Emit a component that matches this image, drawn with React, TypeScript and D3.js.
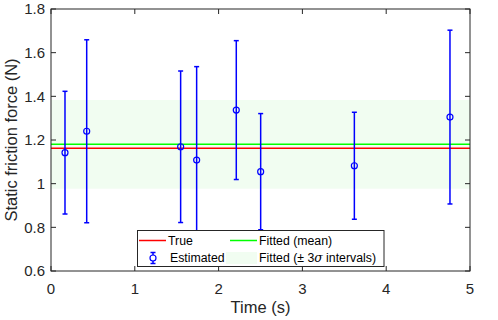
import { useEffect, useRef } from 'react';
import * as d3 from 'd3';

// measured points (time in s, estimated force in N, error half-width)
const times = [0.167, 0.426, 1.547, 1.738, 2.211, 2.502, 3.62, 4.761];
const estimates = [1.142, 1.24, 1.169, 1.108, 1.337, 1.055, 1.082, 1.305];
const errors = [0.281, 0.419, 0.347, 0.428, 0.318, 0.266, 0.245, 0.398];

const trueValue = [1.162];
const fittedMean = [1.18];
const fittedSigma3 = [0.203];

const xTicks = [0, 1, 2, 3, 4, 5];
const yTicks = [0.6, 0.8, 1, 1.2, 1.4, 1.6, 1.8];

const legendLabels = ['True', 'Fitted (mean)', 'Estimated', 'Fitted (± 3σ intervals)'];

function App() {
    const svgRef = useRef<SVGSVGElement>(null);

    useEffect(() => {
        if (!svgRef.current) return;
        const svg = d3.select(svgRef.current);
        svg.selectAll('*').remove();

        const width = 498;
        const height = 320;
        const margin = { top: 9, right: 28, bottom: 49, left: 51 };
        const axisColor = '#262626';
        const font = '"Liberation Sans", Arial, sans-serif';

        const x = d3.scaleLinear().domain([0, 5]).range([margin.left, width - margin.right]);
        const y = d3.scaleLinear().domain([0.6, 1.8]).range([height - margin.bottom, margin.top]);

        svg.append('rect')
            .attr('width', width)
            .attr('height', height)
            .attr('fill', '#ffffff');

        const clip = svg.append('clipPath').attr('id', 'plotclip');
        clip.append('rect')
            .attr('x', margin.left)
            .attr('y', margin.top)
            .attr('width', x(5) - x(0))
            .attr('height', y(0.6) - y(1.8));

        const plot = svg.append('g').attr('clip-path', 'url(#plotclip)');

        // ±3σ band
        plot.append('rect')
            .attr('x', x(0))
            .attr('width', x(5) - x(0))
            .attr('y', y(fittedMean[0] + fittedSigma3[0]))
            .attr('height', y(fittedMean[0] - fittedSigma3[0]) - y(fittedMean[0] + fittedSigma3[0]))
            .attr('fill', '#f1fdf1');

        plot.append('line')
            .attr('x1', x(0)).attr('x2', x(5))
            .attr('y1', y(trueValue[0])).attr('y2', y(trueValue[0]))
            .attr('stroke', '#ff0000')
            .attr('stroke-width', 1.5);

        plot.append('line')
            .attr('x1', x(0)).attr('x2', x(5))
            .attr('y1', y(fittedMean[0])).attr('y2', y(fittedMean[0]))
            .attr('stroke', '#00ff00')
            .attr('stroke-width', 1.5);

        const pts = times.map((t, i) => ({ t, v: estimates[i], e: errors[i] }));
        const capW = 2.5;
        const eb = plot.selectAll('g.eb').data(pts).enter().append('g');
        eb.append('line')
            .attr('x1', d => x(d.t)).attr('x2', d => x(d.t))
            .attr('y1', d => y(d.v - d.e)).attr('y2', d => y(d.v + d.e))
            .attr('stroke', '#0000ff').attr('stroke-width', 1.5);
        eb.append('line')
            .attr('x1', d => x(d.t) - capW).attr('x2', d => x(d.t) + capW)
            .attr('y1', d => y(d.v + d.e)).attr('y2', d => y(d.v + d.e))
            .attr('stroke', '#0000ff').attr('stroke-width', 1.5);
        eb.append('line')
            .attr('x1', d => x(d.t) - capW).attr('x2', d => x(d.t) + capW)
            .attr('y1', d => y(d.v - d.e)).attr('y2', d => y(d.v - d.e))
            .attr('stroke', '#0000ff').attr('stroke-width', 1.5);
        eb.append('circle')
            .attr('cx', d => x(d.t)).attr('cy', d => y(d.v))
            .attr('r', 3)
            .attr('fill', 'none')
            .attr('stroke', '#0000ff').attr('stroke-width', 1.2);

        // axes box and inward ticks
        const tickLen = 5;
        const axes = svg.append('g').attr('stroke', axisColor).attr('stroke-width', 1).attr('fill', 'none');
        axes.append('rect')
            .attr('x', x(0)).attr('y', y(1.8))
            .attr('width', x(5) - x(0)).attr('height', y(0.6) - y(1.8));
        xTicks.forEach(t => {
            axes.append('line').attr('x1', x(t)).attr('x2', x(t)).attr('y1', y(0.6)).attr('y2', y(0.6) - tickLen);
            axes.append('line').attr('x1', x(t)).attr('x2', x(t)).attr('y1', y(1.8)).attr('y2', y(1.8) + tickLen);
        });
        yTicks.forEach(t => {
            axes.append('line').attr('x1', x(0)).attr('x2', x(0) + tickLen).attr('y1', y(t)).attr('y2', y(t));
            axes.append('line').attr('x1', x(5)).attr('x2', x(5) - tickLen).attr('y1', y(t)).attr('y2', y(t));
        });

        svg.selectAll('text.xt').data(xTicks).enter().append('text')
            .attr('x', d => x(d))
            .attr('y', y(0.6) + 23)
            .attr('text-anchor', 'middle')
            .attr('font-family', font)
            .attr('font-size', 15)
            .attr('fill', axisColor)
            .text(d => d3.format('')(d));

        svg.selectAll('text.yt').data(yTicks).enter().append('text')
            .attr('x', x(0) - 6)
            .attr('y', d => y(d))
            .attr('dy', '0.35em')
            .attr('text-anchor', 'end')
            .attr('font-family', font)
            .attr('font-size', 15)
            .attr('fill', axisColor)
            .text(d => d3.format('')(d));

        svg.append('text')
            .attr('x', (x(0) + x(5)) / 2)
            .attr('y', 313)
            .attr('text-anchor', 'middle')
            .attr('font-family', font)
            .attr('font-size', 16.5)
            .attr('fill', axisColor)
            .text('Time (s)');

        svg.append('text')
            .attr('transform', `translate(17, ${(y(0.6) + y(1.8)) / 2}) rotate(-90)`)
            .attr('text-anchor', 'middle')
            .attr('font-family', font)
            .attr('font-size', 16.5)
            .attr('fill', axisColor)
            .text('Static friction force (N)');

        // legend
        const lg = svg.append('g');
        lg.append('rect')
            .attr('x', 137.5).attr('y', 230.5)
            .attr('width', 246.5).attr('height', 36)
            .attr('fill', '#ffffff')
            .attr('stroke', axisColor)
            .attr('stroke-width', 1);

        const row1 = 240.5;
        const row2 = 258;
        lg.append('line').attr('x1', 139).attr('x2', 166).attr('y1', row1).attr('y2', row1)
            .attr('stroke', '#ff0000').attr('stroke-width', 1.5);
        lg.append('line').attr('x1', 230).attr('x2', 257).attr('y1', row1).attr('y2', row1)
            .attr('stroke', '#00ff00').attr('stroke-width', 1.5);
        lg.append('rect').attr('x', 226).attr('y', 252).attr('width', 31).attr('height', 12)
            .attr('fill', '#f1fdf1');
        const ex = 153;
        lg.append('line').attr('x1', ex).attr('x2', ex).attr('y1', row2 - 5.5).attr('y2', row2 + 5.5)
            .attr('stroke', '#0000ff').attr('stroke-width', 1.5);
        [row2 - 5.5, row2 + 5.5].forEach(cy => {
            lg.append('line').attr('x1', ex - capW).attr('x2', ex + capW).attr('y1', cy).attr('y2', cy)
                .attr('stroke', '#0000ff').attr('stroke-width', 1.5);
        });
        lg.append('circle').attr('cx', ex).attr('cy', row2).attr('r', 3)
            .attr('fill', '#ffffff').attr('stroke', '#0000ff').attr('stroke-width', 1.2);

        const labelPos = [[168, row1], [259, row1], [170, row2], [259, row2]];
        legendLabels.forEach((label, i) => {
            const t = lg.append('text')
                .attr('x', labelPos[i][0])
                .attr('y', labelPos[i][1])
                .attr('dy', '0.35em')
                .attr('font-family', font)
                .attr('font-size', 12.3)
                .attr('fill', '#000000');
            if (label.includes('σ')) {
                const [a, b] = label.split('σ');
                t.append('tspan').text(a);
                t.append('tspan').attr('font-style', 'italic').attr('font-family', '"DejaVu Serif", serif').text('σ');
                t.append('tspan').text(b);
            } else {
                t.text(label);
            }
        });
    }, []);

    return (
        <svg
            ref={svgRef}
            width={498}
            height={320}
            style={{ position: 'absolute', left: 0, top: 0 }}
        />
    );
}

export default App;
